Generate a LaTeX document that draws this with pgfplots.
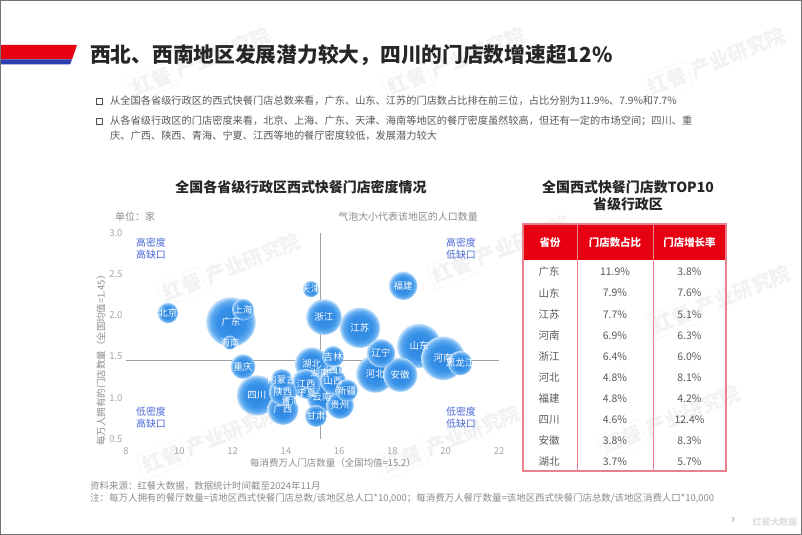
\documentclass[border=0pt]{standalone}
\usepackage{fontspec}
\setmainfont{Noto Sans CJK SC}
\usepackage{pgfplots}
\usepackage{pgfplotstable}
\pgfplotsset{compat=1.18}

\definecolor{hdred}{HTML}{E60012}
\definecolor{hdblue}{HTML}{2B3FB0}
\definecolor{titlecol}{HTML}{262626}
\definecolor{bodycol}{HTML}{595959}
\definecolor{tickgray}{HTML}{A6A6A6}
\definecolor{axgray}{HTML}{8C8C8C}
\definecolor{lngray}{HTML}{A0A0A0}
\definecolor{quadblue}{HTML}{4A68D8}
\definecolor{tabline}{HTML}{E8808F}
\definecolor{bubA}{HTML}{2C84DE}
\definecolor{bubB}{HTML}{3892E8}
\definecolor{bubC}{HTML}{62ACF0}
\definecolor{bubD}{HTML}{C2E0FA}

\pgfdeclareradialshading{bubbleshade}{\pgfpointorigin}{%
  color(0bp)=(bubA); color(15bp)=(bubB); color(21bp)=(bubC);
  color(25bp)=(bubD); color(50bp)=(bubD)}
% bubble mark: radius \rad (set per point), filled with the radial shading
\pgfdeclareplotmark{bubble}{%
  \pgfscope
  \pgfpathcircle{\pgfpointorigin}{\rad pt}\pgfusepath{clip}%
  \pgfmathsetmacro\bubsc{\rad/25.09}%
  \pgftransformscale{\bubsc}\pgflowlevelsynccm
  \pgfuseshading{bubbleshade}%
  \endpgfscope}

% x = stores per 10k consumers, y = stores per 10k people, pop = population (mio.)
\pgfplotstableread{
name x y pop
广东 11.94 1.92 127
山东 19.00 1.63 101
河南 19.90 1.48 99
江苏 16.78 1.85 85
四川 12.91 1.03 84
河北 17.35 1.29 74
湖南 15.28 1.30 66
浙江 15.43 1.98 66
安徽 18.29 1.28 61
湖北 14.97 1.41 58
广西 13.89 0.86 50
云南 15.35 1.01 47
江西 14.76 1.17 45
辽宁 17.57 1.54 42
福建 18.40 2.36 42
陕西 13.89 1.07 40
贵州 16.03 0.91 39
山西 15.77 1.20 35
重庆 12.39 1.38 32
黑龙江 20.54 1.42 31
新疆 16.28 1.09 26
上海 12.39 2.07 25
甘肃 15.13 0.78 25
内蒙古 13.84 1.22 24
吉林 15.77 1.50 24
北京 9.57 2.03 22
天津 14.94 2.32 14
海南 11.90 1.67 10
宁夏 14.78 1.06 7
青海 14.19 0.96 6
西藏 15.96 1.34 4
}\bubbles

\newcommand\fs[1]{\fontsize{#1}{#1}\selectfont}
\newcommand\wm[2]{\node[rotate=22, text=black!5, font=\bfseries\fs{20}] at (#1,#2) {\fbox{红餐}\,产业研究院};}

\begin{document}
\begin{tikzpicture}[x=1bp,y=-1bp]
\useasboundingbox (0,0) rectangle (802,535);
\fill[white] (0,0) rectangle (802,535);

% watermarks
\wm{200}{62}\wm{455}{62}\wm{715}{62}
\wm{230}{268}\wm{500}{250}\wm{720}{300}
\wm{210}{440}\wm{450}{440}\wm{670}{420}

% header mark and title
\fill[hdred] (0,45) -- (77,45) -- (72,59.5) -- (0,59.5) -- cycle;
\fill[hdblue] (0,59.5) -- (72,59.5) -- (70,64.5) -- (0,64.5) -- cycle;
\node[anchor=west, inner sep=0pt, text=titlecol, font=\bfseries\fs{20.8}] at (90,55)
  {西北、西南地区发展潜力较大，四川的门店数增速超12\%};

% bullets
\foreach \yy in {101,121} \draw[black!70, line width=0.9bp] (96.5,{\yy-3}) rectangle (102.5,{\yy+3});
\begin{scope}[every node/.style={anchor=west, inner sep=0pt, text=bodycol, font=\fs{10.25}}]
\node at (110,101) {从全国各省级行政区的西式快餐门店总数来看，广东、山东、江苏的门店数占比排在前三位，占比分别为11.9\%、7.9\%和7.7\%};
\node at (110,121) {从各省级行政区的门店密度来看，北京、上海、广东、天津、海南等地区的餐厅密度虽然较高，但还有一定的市场空间；四川、重};
\node at (110,136) {庆、广西、陕西、青海、宁夏、江西等地的餐厅密度较低，发展潜力较大};
\end{scope}

% bubble chart
\node[text=titlecol, font=\bfseries\fs{14}] at (301,187) {全国各省级行政区西式快餐门店密度情况};
\node[anchor=west, inner sep=0pt, text=axgray, font=\fs{10}] at (115,217) {单位：家};
\node[anchor=east, inner sep=0pt, text=axgray, font=\fs{10}] at (478,217) {气泡大小代表该地区的人口数量};

\begin{axis}[
  at={(126bp,-439bp)}, anchor=south west,
  scale only axis, width=373bp, height=206bp,
  xmin=8, xmax=22, ymin=0.5, ymax=3,
  xtick={8,10,...,22}, ytick={0.5,1,...,3},
  axis line style={draw=none}, tick style={draw=none},
  tick label style={font=\fs{9.5}, text=tickgray},
  xticklabel style={yshift=-5bp},
  yticklabel style={/pgf/number format/.cd, fixed, fixed zerofill, precision=1},
  /pgf/number format/assume math mode=true,
  clip=false,
]
\addplot[lngray, line width=0.9bp, no marks] coordinates {(8,1.45) (22,1.45)};
\addplot[lngray, line width=0.9bp, no marks] coordinates {(15.3,0.5) (15.3,3)};
\addplot[only marks, mark=bubble,
  visualization depends on={2.2*sqrt(\thisrow{pop}) \as \rad},
] table[x=x, y=y] {\bubbles};
% labels on top of all bubbles
\addplot[only marks, mark=none,
  point meta=explicit symbolic,
  nodes near coords,
  every node near coord/.append style={anchor=center, text=white, font=\fs{9.5}, inner sep=0pt},
] table[x=x, y=y, meta=name] {\bubbles};
\end{axis}

\node[rotate=90, text=axgray, font=\fs{9.5}] at (101,358) {每万人拥有的门店数量（全国均值=1.45）};
\node[text=axgray, font=\fs{9.5}] at (333,463) {每消费万人门店数量（全国均值=15.2）};

\begin{scope}[every node/.style={text=quadblue, font=\fs{10}, align=center}]
\node at (151,248.5) {高密度\\[1.5bp]高缺口};
\node at (461,248.5) {高密度\\[1.5bp]低缺口};
\node at (151,417.5) {低密度\\[1.5bp]高缺口};
\node at (461,417.5) {低密度\\[1.5bp]低缺口};
\end{scope}

% table
\node[text=titlecol, font=\bfseries\fs{14}] at (628,187) {全国西式快餐门店数TOP10};
\node[text=titlecol, font=\bfseries\fs{14}] at (628,204.5) {省级行政区};
\fill[hdred] (523,224) rectangle (726,260.5);
\draw[tabline, line width=0.8bp] (577.5,224) -- (577.5,471) (653,224) -- (653,471);
\draw[tabline, line width=1.3bp] (523,224) rectangle (726,471);
\begin{scope}[every node/.style={text=white, font=\bfseries\fs{10.5}}]
\node at (550,242.5) {省份};
\node at (615,242.5) {门店数占比};
\node at (689.5,242.5) {门店增长率};
\end{scope}
\foreach \p/\a/\b [count=\i from 0] in {广东/11.9/3.8, 山东/7.9/7.6, 江苏/7.7/5.1, 河南/6.9/6.3, 浙江/6.4/6.0, 河北/4.8/8.1, 福建/4.8/4.2, 四川/4.6/12.4, 安徽/3.8/8.3, 湖北/3.7/5.7} {
  \node[text=bodycol, font=\fs{10.5}] at (549,{272+21.1*\i}) {\p};
  \node[text=bodycol, font=\fs{10.5}] at (615,{272+21.1*\i}) {\a\%};
  \node[text=bodycol, font=\fs{10.5}] at (689.5,{272+21.1*\i}) {\b\%};
}

% footer
\begin{scope}[every node/.style={anchor=west, inner sep=0pt, text=axgray, font=\fs{9.5}}]
\node at (90,486) {资料来源：红餐大数据，数据统计时间截至2024年11月};
\node at (90,498) {注：每万人拥有的餐厅数量=该地区西式快餐门店总数/该地区总人口*10,000；每消费万人餐厅数量=该地区西式快餐门店总数/该地区消费人口*10,000};
\end{scope}
\node[text=black!55, font=\fs{6}] at (733,520) {7};
\node[text=black!12, font=\bfseries\fs{9}] at (775,522) {红餐大数据};

\draw[black!55, line width=1bp] (0.5,0.5) rectangle (801.5,534.5);
\end{tikzpicture}
\end{document}
